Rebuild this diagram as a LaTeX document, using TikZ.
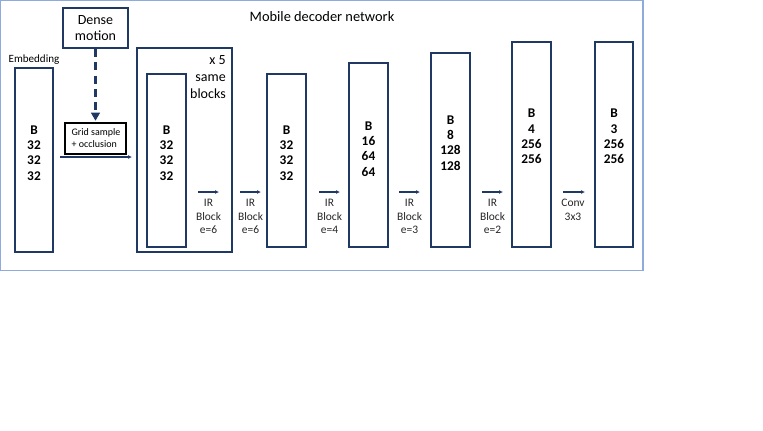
\documentclass[tikz,border=0pt]{standalone}
\usepackage{fontspec}
\setmainfont{Carlito}
\usetikzlibrary{fit,arrows.meta}
\definecolor{navy}{RGB}{31,56,100}
\definecolor{frameblue}{RGB}{143,170,220}
\begin{document}
\begin{tikzpicture}[x=0.75pt,y=-0.75pt,
  box/.style={draw=navy,line width=1.5pt,inner sep=0pt},
  dims/.style={font=\fontsize{10}{11.5}\selectfont\bfseries,align=center,text=black},
  oplabel/.style={font=\fontsize{8.6}{10.1}\selectfont,align=center,text=black!85,inner sep=0pt},
  oparrow/.style={draw=navy,line width=0.9pt,-{Latex[length=3pt,width=3pt]}}]
\useasboundingbox (0,0) rectangle (763,430);
\coordinate (f1) at (0.5,0.5); \coordinate (f2) at (643,270.5);
\node[draw=frameblue,line width=0.8pt,inner sep=0pt,fit=(f1)(f2)] (frame) {};
\node[font=\fontsize{10.8}{12}\selectfont] (title) at (322,17) {Mobile decoder network};
% embedding
\coordinate (e1) at (15,68); \coordinate (e2) at (53,252);
\node[box,fit=(e1)(e2)] (emb) {};
\node[font=\fontsize{8.3}{9}\selectfont] (embl) at (34,60) {Embedding};
\node[dims] (embt) at (34,153) {B\\32\\32\\32};
% dense motion
\coordinate (d1) at (63,8); \coordinate (d2) at (128,48);
\node[box,fit=(d1)(d2)] (dm) {};
\node[font=\fontsize{10.5}{12.5}\selectfont,align=center] (dmt) at (95.5,28) {Dense\\motion};
% grid sample
\coordinate (g1) at (65,123); \coordinate (g2) at (126,154);
\node[draw=black,line width=1.5pt,inner sep=0pt,fit=(g1)(g2)] (gs) {};
\node[font=\fontsize{7.5}{9}\selectfont,align=left] (gst) at (96,138.5) {Grid sample\\+ occlusion};
\draw[draw=navy,line width=2pt,dash pattern=on 6pt off 4pt] (dm.south) -- ([yshift=6pt]gs.north);
\fill[navy] ([yshift=1pt]gs.north) -- ++(-3.5pt,6pt) -- ++(7pt,0) -- cycle;
% big box
\coordinate (b1) at (137,48); \coordinate (b2) at (232,252);
\node[box,fit=(b1)(b2)] (big) {};
\node[font=\fontsize{10.5}{12.8}\selectfont,align=right,anchor=north east,inner sep=0pt] (bigt) at (226,55) {x 5\\same\\blocks};
\coordinate (i1) at (147,74); \coordinate (i2) at (186,247);
\node[box,fit=(i1)(i2)] (b1x) {};
\node[dims] (b1t) at (166.5,153) {B\\32\\32\\32};
\coordinate (a0s) at (60,157); \coordinate (a0e) at (132,157);
\draw[oparrow] (a0s) -- (a0e);
% other boxes
\coordinate (c1) at (267,74); \coordinate (c2) at (306,247);
\node[box,fit=(c1)(c2)] (bx2) {};
\node[dims] at (286.5,153) (bx2t) {B\\32\\32\\32};
\coordinate (c3) at (349,63); \coordinate (c4) at (388,247);
\node[box,fit=(c3)(c4)] (bx3) {};
\node[dims] at (368.5,149) (bx3t) {B\\16\\64\\64};
\coordinate (c5) at (431,53); \coordinate (c6) at (470,247);
\node[box,fit=(c5)(c6)] (bx4) {};
\node[dims] at (450.5,143) (bx4t) {B\\8\\128\\128};
\coordinate (c7) at (512,42); \coordinate (c8) at (551,247);
\node[box,fit=(c7)(c8)] (bx5) {};
\node[dims] at (531.5,136.5) (bx5t) {B\\4\\256\\256};
\coordinate (c9) at (595,42); \coordinate (c10) at (633,247);
\node[box,fit=(c9)(c10)] (bx6) {};
\node[dims] at (614,136.5) (bx6t) {B\\3\\256\\256};
% arrows and labels
\foreach \xs/\xe/\lab/\nm in {198/219/{IR\\Block\\e=6}/p1, 240/261/{IR\\Block\\e=6}/p2, 319/340/{IR\\Block\\e=4}/p3, 399/420/{IR\\Block\\e=3}/p4, 482/503/{IR\\Block\\e=2}/p5}{
  \coordinate (\nm s) at (\xs,192); \coordinate (\nm e) at (\xe,192);
  \draw[oparrow] (\nm s) -- (\nm e);
  \node[oplabel,anchor=north] (\nm l) at ({(\xs+\xe)/2},199) {\lab};
}
\coordinate (p6s) at (563,192); \coordinate (p6e) at (585,192);
\draw[oparrow] (p6s) -- (p6e);
\node[oplabel,anchor=north] (p6l) at (573,199) {Conv\\3x3};
\end{tikzpicture}
\end{document}
